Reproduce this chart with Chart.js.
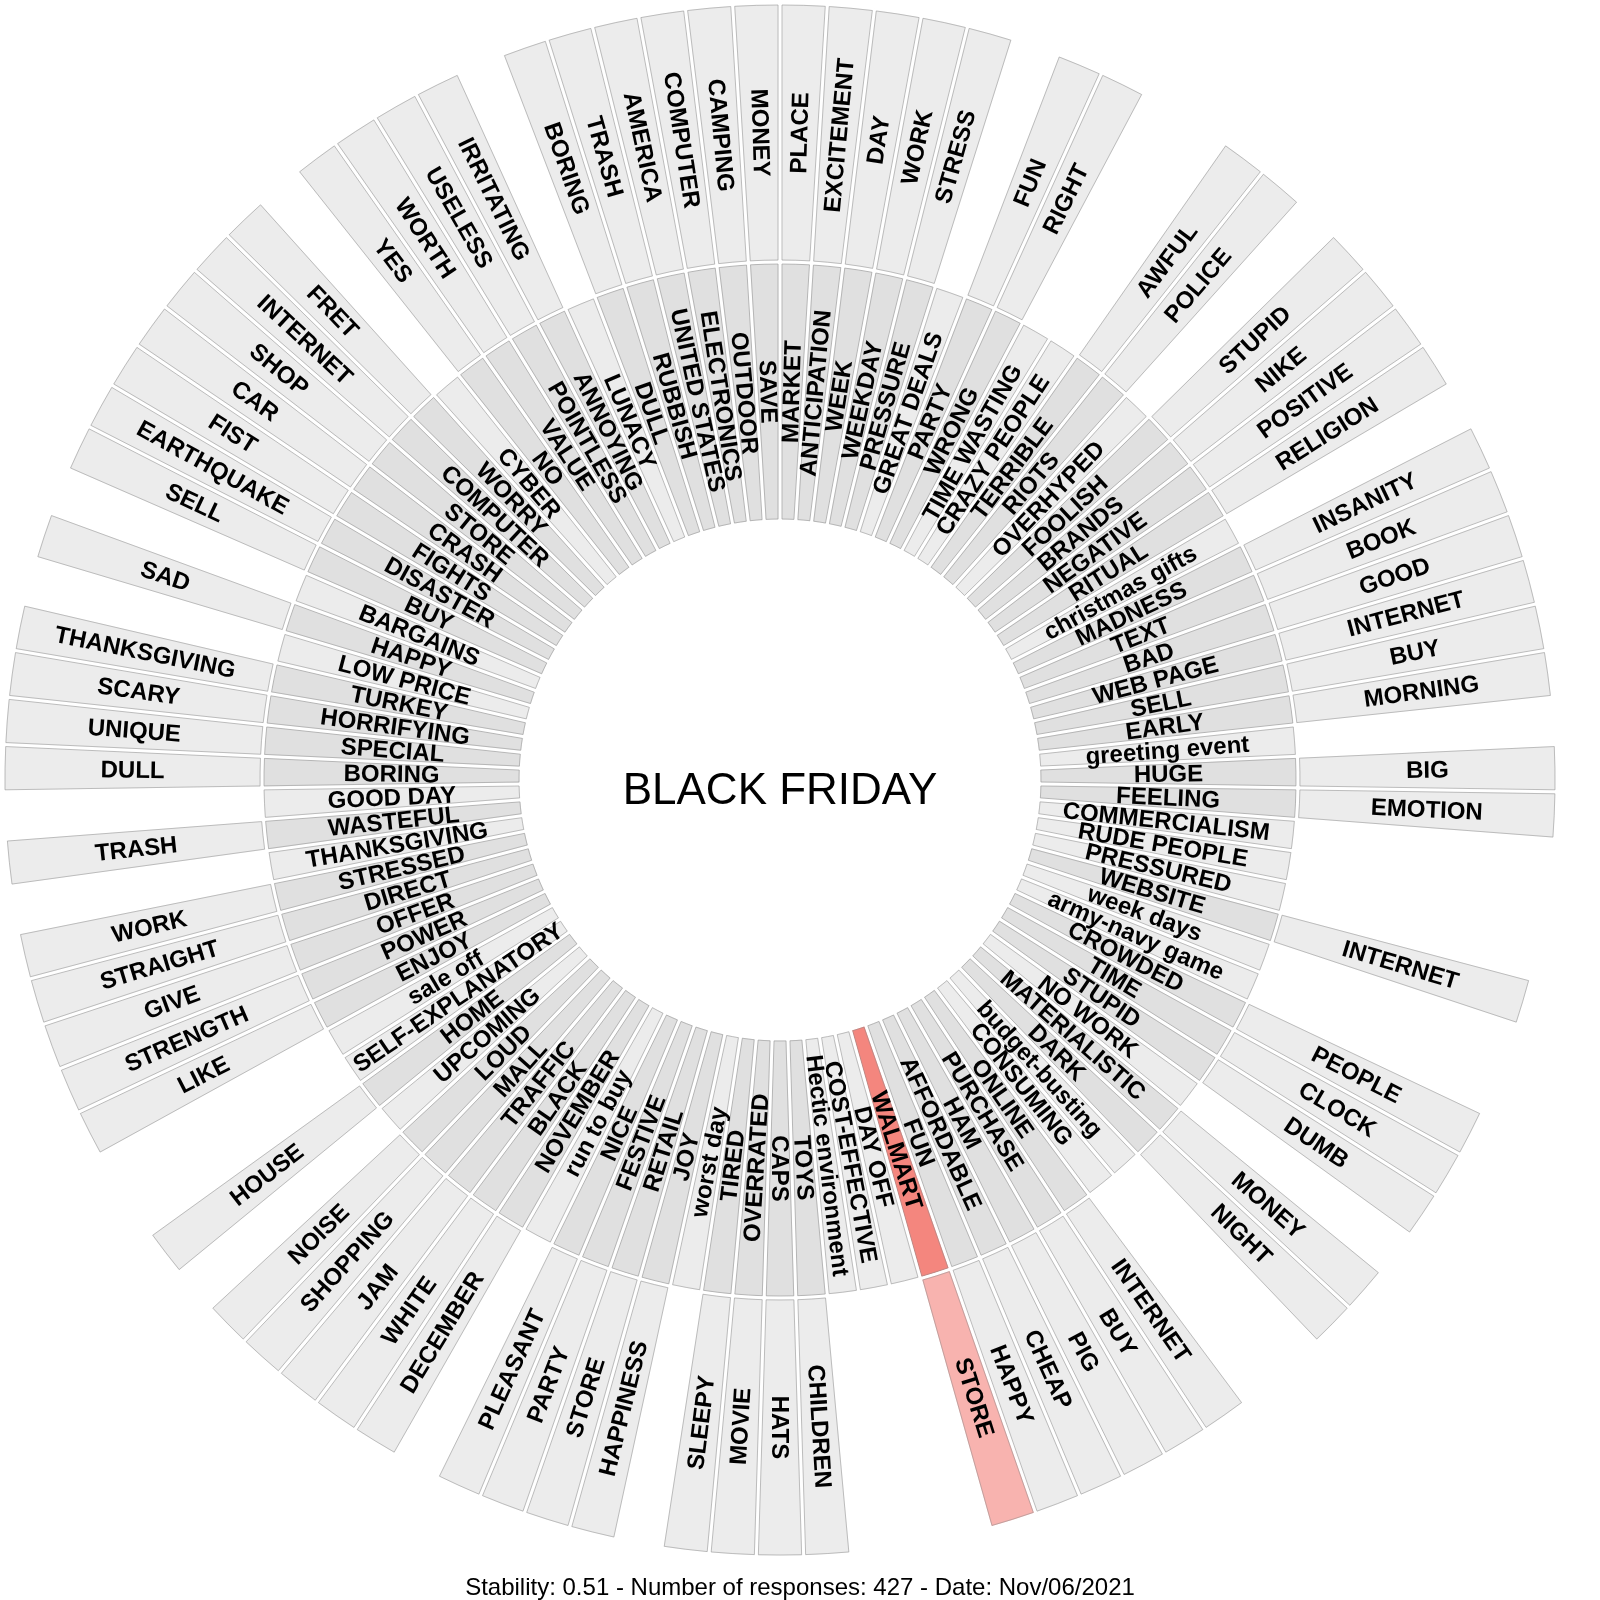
<!DOCTYPE html>
<html>
<head>
<meta charset="utf-8">
<title>BLACK FRIDAY</title>
<script src="https://cdn.jsdelivr.net/npm/chart.js@4.4.0/dist/chart.umd.min.js"></script>
<style>
  html, body { margin: 0; padding: 0; background: #ffffff; }
  canvas { display: block; }
</style>
</head>
<body>
<canvas id="sunburstChart" width="1600" height="1600"></canvas>
<script>
var rootWord = 'BLACK FRIDAY';
var footerText = 'Stability: 0.51 - Number of responses: 427 - Date: Nov/06/2021';

// first ring, clockwise from 12 o'clock
var firstWords = [
    'MARKET', 'ANTICIPATION', 'WEEK', 'WEEKDAY', 'PRESSURE', 'GREAT DEALS', 'PARTY', 'WRONG',
    'TIME WASTING', 'CRAZY PEOPLE', 'TERRIBLE', 'RIOTS', 'OVERHYPED', 'FOOLISH', 'BRANDS', 'NEGATIVE',
    'RITUAL', 'christmas gifts', 'MADNESS', 'TEXT', 'BAD', 'WEB PAGE', 'SELL', 'EARLY',
    'greeting event', 'HUGE', 'FEELING', 'COMMERCIALISM', 'RUDE PEOPLE', 'PRESSURED', 'WEBSITE', 'week days',
    'army-navy game', 'CROWDED', 'TIME', 'STUPID', 'NO WORK', 'MATERIALISTIC', 'DARK', 'budget-busting',
    'CONSUMING', 'ONLINE', 'PURCHASE', 'HAM', 'AFFORDABLE', 'FUN', 'WALMART', 'DAY OFF',
    'COST-EFFECTIVE', 'Hectic environment', 'TOYS', 'CAPS', 'OVERRATED', 'TIRED', 'worst day', 'JOY',
    'RETAIL', 'FESTIVE', 'NICE', 'run to buy', 'NOVEMBER', 'BLACK', 'TRAFFIC', 'MALL',
    'LOUD', 'UPCOMING', 'HOME', 'SELF-EXPLANATORY', 'sale off', 'ENJOY', 'POWER', 'OFFER',
    'DIRECT', 'STRESSED', 'THANKSGIVING', 'WASTEFUL', 'GOOD DAY', 'BORING', 'SPECIAL', 'HORRIFYING',
    'TURKEY', 'LOW PRICE', 'HAPPY', 'BARGAINS', 'BUY', 'DISASTER', 'FIGHTS', 'CRASH',
    'STORE', 'COMPUTER', 'WORRY', 'CYBER', 'NO', 'VALUE', 'POINTLESS', 'ANNOYING',
    'LUNACY', 'DULL', 'RUBBISH', 'UNITED STATES', 'ELECTRONICS', 'OUTDOOR', 'SAVE'
];

// second ring, one entry per first-ring word ('' = no follow-up)
var secondWords = [
    'PLACE', 'EXCITEMENT', 'DAY', 'WORK', 'STRESS', '', 'FUN', 'RIGHT',
    '', '', 'AWFUL', 'POLICE', '', 'STUPID', 'NIKE', 'POSITIVE',
    'RELIGION', '', 'INSANITY', 'BOOK', 'GOOD', 'INTERNET', 'BUY', 'MORNING',
    '', 'BIG', 'EMOTION', '', '', '', 'INTERNET', '',
    '', 'PEOPLE', 'CLOCK', 'DUMB', '', 'MONEY', 'NIGHT', '',
    '', 'INTERNET', 'BUY', 'PIG', 'CHEAP', 'HAPPY', 'STORE', '',
    '', '', 'CHILDREN', 'HATS', 'MOVIE', 'SLEEPY', '', 'HAPPINESS',
    'STORE', 'PARTY', 'PLEASANT', '', 'DECEMBER', 'WHITE', 'JAM', 'SHOPPING',
    'NOISE', '', 'HOUSE', '', '', 'LIKE', 'STRENGTH', 'GIVE',
    'STRAIGHT', 'WORK', '', 'TRASH', '', 'DULL', 'UNIQUE', 'SCARY',
    'THANKSGIVING', '', 'SAD', '', 'SELL', 'EARTHQUAKE', 'FIST', 'CAR',
    'SHOP', 'INTERNET', 'FRET', '', 'YES', 'WORTH', 'USELESS', 'IRRITATING',
    '', 'BORING', 'TRASH', 'AMERICA', 'COMPUTER', 'CAMPING', 'MONEY'
];

// every response counts once, so every slice has the same weight
var sliceWeights = [
    1, 1, 1, 1, 1, 1, 1, 1, 1, 1,
    1, 1, 1, 1, 1, 1, 1, 1, 1, 1,
    1, 1, 1, 1, 1, 1, 1, 1, 1, 1,
    1, 1, 1, 1, 1, 1, 1, 1, 1, 1,
    1, 1, 1, 1, 1, 1, 1, 1, 1, 1,
    1, 1, 1, 1, 1, 1, 1, 1, 1, 1,
    1, 1, 1, 1, 1, 1, 1, 1, 1, 1,
    1, 1, 1, 1, 1, 1, 1, 1, 1, 1,
    1, 1, 1, 1, 1, 1, 1, 1, 1, 1,
    1, 1, 1, 1, 1, 1, 1, 1, 1, 1,
    1, 1, 1
];

var highlightedWords = ['WALMART'];

var innerColors = firstWords.map(function(word, i) {
    if (highlightedWords.indexOf(word) >= 0) return '#f4867e';
    return secondWords[i] ? '#e0e0e0' : '#ececec';
});
var outerColors = secondWords.map(function(word, i) {
    if (!word) return 'rgba(0,0,0,0)';
    return highlightedWords.indexOf(firstWords[i]) >= 0 ? '#f8b3af' : '#ececec';
});
var outerBorders = secondWords.map(function(word) { return word ? 3 : 0; });

var wordRingPlugin = {
    id: 'wordRing',
    afterDatasetsDraw: function(chart) {
        var ctx = chart.ctx;
        var arcs = [];
        chart.data.datasets.forEach(function(dataset, di) {
            chart.getDatasetMeta(di).data.forEach(function(arc, i) {
                if (!dataset.words[i]) return;
                arcs.push({
                    word: dataset.words[i],
                    p: arc.getProps(['x', 'y', 'startAngle', 'endAngle', 'innerRadius', 'outerRadius'], true)
                });
            });
        });

        // thin grey edge just inside the white gaps
        ctx.save();
        ctx.strokeStyle = 'rgba(140,140,140,0.5)';
        ctx.lineWidth = 1;
        arcs.forEach(function(item) {
            var p = item.p, inset = 2;
            var rOut = p.outerRadius - inset, rIn = p.innerRadius + inset;
            ctx.beginPath();
            ctx.arc(p.x, p.y, rOut, p.startAngle + inset / rOut, p.endAngle - inset / rOut);
            ctx.arc(p.x, p.y, rIn, p.endAngle - inset / rIn, p.startAngle + inset / rIn, true);
            ctx.closePath();
            ctx.stroke();
        });
        ctx.restore();

        // radial labels
        ctx.save();
        ctx.font = 'bold 24px "Liberation Sans", Arial, sans-serif';
        ctx.fillStyle = '#000000';
        ctx.textAlign = 'center';
        ctx.textBaseline = 'middle';
        arcs.forEach(function(item) {
            var p = item.p;
            var a = (p.startAngle + p.endAngle) / 2;
            var r = (p.innerRadius + p.outerRadius) / 2;
            var rot = a;
            if (rot > Math.PI / 2 + 1e-6) rot -= Math.PI;
            ctx.save();
            ctx.translate(p.x + r * Math.cos(a), p.y + r * Math.sin(a));
            ctx.rotate(rot);
            ctx.fillText(item.word, 0, 1);
            ctx.restore();
        });
        ctx.restore();
    },
    afterDraw: function(chart) {
        var ctx = chart.ctx;
        var area = chart.chartArea;
        var cx = (area.left + area.right) / 2;
        var cy = (area.top + area.bottom) / 2;
        ctx.save();
        ctx.fillStyle = '#000000';
        ctx.textAlign = 'center';
        ctx.textBaseline = 'alphabetic';
        ctx.font = '44px "Liberation Sans", Arial, sans-serif';
        ctx.fillText(rootWord, cx, cy + 24);
        ctx.font = '24px "Liberation Sans", Arial, sans-serif';
        ctx.fillText(footerText, chart.width / 2, chart.height - 5);
        ctx.restore();
    }
};

var ctx = document.getElementById('sunburstChart').getContext('2d');
var chart = new Chart(ctx, {
    type: 'doughnut',
    data: {
        labels: firstWords,
        datasets: [{
            label: 'Second association',
            data: sliceWeights,
            words: secondWords,
            backgroundColor: outerColors,
            borderColor: '#ffffff',
            borderWidth: outerBorders
        }, {
            label: 'First association',
            data: sliceWeights,
            words: firstWords,
            backgroundColor: innerColors,
            borderColor: '#ffffff',
            borderWidth: 3
        }]
    },
    options: {
        responsive: false,
        animation: false,
        devicePixelRatio: 1,
        events: [],
        rotation: 0,
        radius: 777,
        cutout: '33.333%',
        layout: {
            padding: { left: 3, top: 3, right: 43, bottom: 43 }
        },
        plugins: {
            legend: { display: false },
            tooltip: { enabled: false }
        }
    },
    plugins: [wordRingPlugin]
});
</script>
</body>
</html>
